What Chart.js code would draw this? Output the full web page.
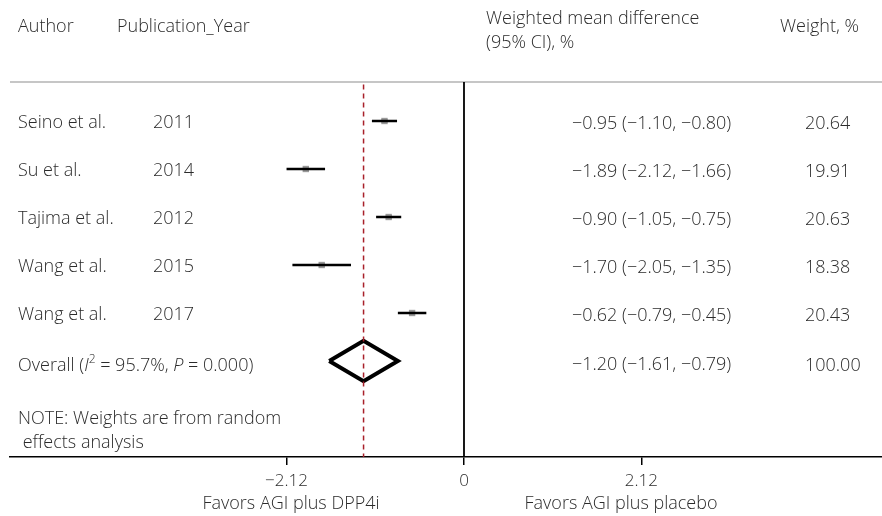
<!DOCTYPE html>
<html>
<head>
<meta charset="utf-8">
<script src="https://cdn.jsdelivr.net/npm/chart.js@4.4.1/dist/chart.umd.min.js"></script>
<style>
  body { margin: 0; background: #fff; }
  canvas { display: block; }
</style>
</head>
<body>
<canvas id="forestChart" width="882" height="516"></canvas>
<script>
// study data
const authors = ['Seino et al.', 'Su et al.', 'Tajima et al.', 'Wang et al.', 'Wang et al.'];
const years = ['2011', '2014', '2012', '2015', '2017'];
const estimates = [-0.95, -1.89, -0.90, -1.70, -0.62];
const lowerCI = [-1.10, -2.12, -1.05, -2.05, -0.79];
const upperCI = [-0.80, -1.66, -0.75, -1.35, -0.45];
const weights = ['20.64', '19.91', '20.63', '18.38', '20.43'];

// pooled estimate
const overallEst = -1.20;
const overallLower = -1.61;
const overallUpper = -0.79;
const overallWeight = '100.00';
const iSquared = '95.7%';
const pValue = '0.000';

const xTicks = [-2.12, 0, 2.12];

const X_MIN = -5.424, X_MAX = 4.994;
const Y_MIN = 0.1875, Y_MAX = 8;
const OVERALL_ROW = authors.length + 1;
const DIAMOND_HALF = 0.42;  // in row units

const textColor = '#2b2b2b';
const baseFont = '300 18px "Open Sans"';

function fmt(v) {
    return (v < 0 ? '\u2212' : '') + Math.abs(v).toFixed(2);
}

// CI segments, separated by gaps
let ciData = [];
estimates.forEach(function (e, i) {
    ciData.push({ x: lowerCI[i], y: i + 1 });
    ciData.push({ x: upperCI[i], y: i + 1 });
    ciData.push({ x: upperCI[i], y: null });
});

let pointData = estimates.map(function (e, i) { return { x: e, y: i + 1 }; });

let diamondData = [
    { x: overallLower, y: OVERALL_ROW },
    { x: overallEst, y: OVERALL_ROW - DIAMOND_HALF },
    { x: overallUpper, y: OVERALL_ROW },
    { x: overallEst, y: OVERALL_ROW + DIAMOND_HALF },
    { x: overallLower, y: OVERALL_ROW }
];

// header rule + all the table text
const tablePlugin = {
    id: 'forestTable',
    beforeDatasetsDraw: function (chart) {
        const ctx = chart.ctx;
        const area = chart.chartArea;
        ctx.save();
        ctx.strokeStyle = '#c6c6c6';
        ctx.lineWidth = 2;
        ctx.beginPath();
        ctx.moveTo(area.left, area.top);
        ctx.lineTo(chart.width, area.top);
        ctx.stroke();
        ctx.restore();
    },
    afterDraw: function (chart) {
        const ctx = chart.ctx;
        const yScale = chart.scales.y;
        ctx.save();
        ctx.fillStyle = textColor;
        ctx.font = baseFont;
        ctx.textBaseline = 'middle';
        ctx.textAlign = 'left';

        // column headers
        ctx.fillText('Author', 18, 27);
        ctx.fillText('Publication_Year', 117, 27);
        ctx.fillText('Weighted mean difference', 486, 19);
        ctx.fillText('(95% CI), %', 486, 43);
        ctx.fillText('Weight, %', 780, 27);

        // study rows
        authors.forEach(function (a, i) {
            let py = yScale.getPixelForValue(i + 1);
            ctx.fillText(a, 18, py + 2);
            ctx.fillText(years[i], 153, py + 2);
            ctx.fillText(fmt(estimates[i]) + ' (' + fmt(lowerCI[i]) + ', ' + fmt(upperCI[i]) + ')', 572, py + 3);
            ctx.fillText(weights[i], 805, py + 3);
        });

        // overall row with italic / superscript parts
        let oy = yScale.getPixelForValue(OVERALL_ROW) + 5;
        let parts = [
            ['Overall (', baseFont, 0],
            ['I', 'italic ' + baseFont, 0],
            ['2', '300 12px "Open Sans"', -6],
            [' = ' + iSquared + ', ', baseFont, 0],
            ['P', 'italic ' + baseFont, 0],
            [' = ' + pValue + ')', baseFont, 0]
        ];
        let cx = 18;
        parts.forEach(function (p) {
            ctx.font = p[1];
            ctx.fillText(p[0], cx, oy + p[2]);
            cx += ctx.measureText(p[0]).width;
        });
        ctx.font = baseFont;
        ctx.fillText(fmt(overallEst) + ' (' + fmt(overallLower) + ', ' + fmt(overallUpper) + ')', 572, oy - 1);
        ctx.fillText(overallWeight, 805, oy);

        // note
        ctx.fillText('NOTE: Weights are from random', 18, 419);
        ctx.fillText(' effects analysis', 18, 443);

        // direction labels
        ctx.textAlign = 'center';
        ctx.fillText('Favors AGI plus DPP4i', 291, 504);
        ctx.fillText('Favors AGI plus placebo', 621, 504);
        ctx.restore();
    }
};

let ctx = document.getElementById('forestChart').getContext('2d');
let forestChart = new Chart(ctx, {
    type: 'scatter',
    data: {
        datasets: [
            {
                // no-effect line
                data: [{ x: 0, y: Y_MIN }, { x: 0, y: Y_MAX }],
                showLine: true,
                borderColor: '#000',
                borderWidth: 1.8,
                pointRadius: 0,
                clip: false
            },
            {
                // pooled estimate line
                data: [{ x: overallEst, y: Y_MIN + 0.05 }, { x: overallEst, y: Y_MAX }],
                showLine: true,
                borderColor: '#a8202a',
                borderWidth: 1.5,
                borderDash: [5, 4],
                pointRadius: 0,
                clip: false
            },
            {
                data: ciData,
                showLine: true,
                spanGaps: false,
                borderColor: '#000',
                borderWidth: 2.5,
                pointRadius: 0
            },
            {
                // weight boxes
                data: pointData,
                pointStyle: 'rect',
                pointRadius: 4.5,
                backgroundColor: '#9a9a9a',
                borderWidth: 0
            },
            {
                data: pointData,
                pointStyle: 'circle',
                pointRadius: 3,
                backgroundColor: '#000',
                borderWidth: 0
            },
            {
                data: diamondData,
                showLine: true,
                borderColor: '#000',
                borderWidth: 4,
                borderJoinStyle: 'miter',
                pointRadius: 0,
                fill: false
            }
        ]
    },
    options: {
        responsive: false,
        animation: false,
        layout: {
            autoPadding: false,
            padding: { left: 10, right: 0, top: 82, bottom: 0 }
        },
        plugins: {
            legend: { display: false },
            tooltip: { enabled: false }
        },
        scales: {
            x: {
                type: 'linear',
                min: X_MIN,
                max: X_MAX,
                afterBuildTicks: function (scale) {
                    scale.ticks = xTicks.map(function (v) { return { value: v }; });
                },
                afterFit: function (scale) {
                    scale.height = 59;
                },
                border: { display: true, color: '#000', width: 1.5 },
                grid: {
                    drawOnChartArea: false,
                    drawTicks: true,
                    tickLength: 8,
                    color: '#000',
                    lineWidth: 1.5
                },
                ticks: {
                    padding: 6,
                    color: textColor,
                    font: { family: 'Open Sans', size: 17, weight: '300' },
                    maxRotation: 0,
                    autoSkip: false,
                    callback: function (value) {
                        return value === 0 ? '0' : fmt(value);
                    }
                }
            },
            y: {
                type: 'linear',
                display: false,
                reverse: true,
                min: Y_MIN,
                max: Y_MAX
            }
        }
    },
    plugins: [tablePlugin]
});
</script>
</body>
</html>
